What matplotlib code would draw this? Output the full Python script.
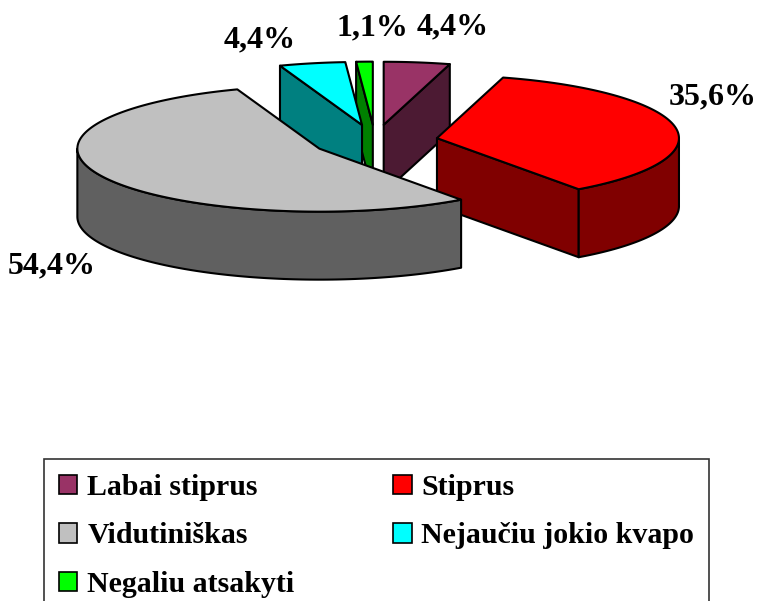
import numpy as np
import matplotlib
matplotlib.use("Agg")
import matplotlib.pyplot as plt
from matplotlib.patches import Polygon, Patch

# data
labels = ["Labai stiprus", "Stiprus", "Vidutiniškas", "Nejaučiu jokio kvapo", "Negaliu atsakyti"]
values = [4.4, 35.6, 54.4, 4.4, 1.1]
pct_text = ["4,4%", "35,6%", "54,4%", "4,4%", "1,1%"]
top_colors = ["#993366", "#FF0000", "#C0C0C0", "#00FFFF", "#00FF00"]
side_colors = ["#4C1A33", "#800000", "#606060", "#008080", "#008000"]

# 3d pie look (pixel units, y axis points down)
CX, CY = 375, 141
A, B = 242, 63        # ellipse half axes
H = 68                # thickness
EXPLODE = 0.26
label_offsets = [(36, -35), (37, -30), (-54, 20), (-52, -23), (8, -34)]

plt.rcParams['font.family'] = ['Liberation Serif', 'DejaVu Serif']
plt.rcParams['font.weight'] = 'bold'

fig = plt.figure(figsize=(7.6, 6.01), dpi=100)
ax = fig.add_axes([0, 0, 1, 1])
ax.set_xlim(0, 760)
ax.set_ylim(601, 0)
ax.axis('off')


def pt(ox, oy, t, z=0):
    r = np.radians(t)
    return ox + A * np.sin(r), oy - B * np.cos(r) + z


total = sum(values)
starts = np.concatenate([[0], np.cumsum(values)[:-1]]) / total * 360
ends = np.cumsum(values) / total * 360

slices = []
for i in range(len(values)):
    t1, t2 = starts[i], ends[i]
    mid = np.radians((t1 + t2) / 2)
    ox = CX + EXPLODE * A * np.sin(mid)
    oy = CY - EXPLODE * B * np.cos(mid)
    slices.append((oy, i, t1, t2, ox))

kw = dict(edgecolor='black', linewidth=1.5, joinstyle='round')
for oy, i, t1, t2, ox in sorted(slices):
    side = side_colors[i]
    # radial walls facing the viewer
    for t, nrm in ((t1, t1 - 90), (t2, t2 + 90)):
        if np.cos(np.radians(nrm)) < 0:
            x, y = pt(ox, oy, t)
            quad = [(ox, oy), (x, y), (x, y + H), (ox, oy + H)]
            ax.add_patch(Polygon(quad, facecolor=side, **kw))
    # outer front wall
    lo, hi = max(t1, 90), min(t2, 270)
    if lo < hi:
        ts = np.linspace(lo, hi, 120)
        upper = [pt(ox, oy, t) for t in ts]
        lower = [pt(ox, oy, t, H) for t in ts[::-1]]
        ax.add_patch(Polygon(upper + lower, facecolor=side, **kw))
    # top face
    ts = np.linspace(t1, t2, 200)
    face = [(ox, oy)] + [pt(ox, oy, t) for t in ts]
    ax.add_patch(Polygon(face, facecolor=top_colors[i], **kw))

    # percentage label
    mid = (t1 + t2) / 2
    lx, ly = pt(ox, oy, mid, H if np.cos(np.radians(mid)) < 0 else 0)
    dx, dy = label_offsets[i]
    ax.text(lx + dx, ly + dy, pct_text[i], fontsize=23, fontweight='bold',
            ha='center', va='center')

# legend, row-wise order like the original
order = [0, 2, 4, 1, 3]
handles = [Patch(facecolor=top_colors[k], edgecolor='black', linewidth=1.2) for k in order]
leg = ax.legend(handles, [labels[k] for k in order], ncol=2,
                loc='upper left', bbox_to_anchor=(44, 459), bbox_transform=ax.transData,
                prop={'family': 'Liberation Serif', 'weight': 'bold', 'size': 21.5},
                frameon=True, fancybox=False, edgecolor='black', borderaxespad=0,
                borderpad=0.5, handlelength=0.62, handleheight=0.62, handletextpad=0.33,
                labelspacing=0.72, columnspacing=3.3)
leg.get_frame().set_linewidth(1.2)

fig.savefig("out.png", dpi=100)
